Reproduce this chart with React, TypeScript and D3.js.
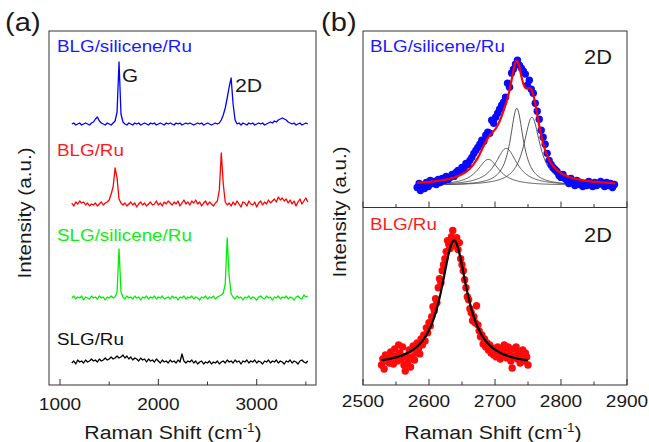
import React from "react";
import * as d3 from "d3";

// (a) Raman spectra, one sample every 20 cm-1 from 1120 to 3520 (heights above each trace's own baseline)
const specStart = 1120;
const specStep = 20;
const blgSiliceneRu = [
  0, 1, -1, 0, 1, -1, 0, 1, 0, -1,
  1, 2, 5, 7, 3, 1, 0, -1, 1, 0,
  -1, 1, 3, 12, 62, 10, 2, 0, -1, 1,
  0, -1, 1, 0, 1, -1, 0, 1, 0, -1,
  1, 0, 1, -1, 0, 1, 0, -1, 1, 0,
  1, 0, -1, 1, 0, 1, -1, 0, 1, 0,
  1, 0, -1, 0, 1, 0, 1, -1, 0, 1,
  0, -1, 0, 1, 0, 1, 4, 9, 16, 26,
  37, 46, 20, 4, 0, 1, -1, 1, 0, -1,
  1, 0, 1, -1, 0, 1, 0, 1, -1, 0,
  1, 2, 1, 3, 2, 4, 5, 6, 5, 4,
  2, 1, 0, 1, -1, 0, 1, -1, 0, 1,
  0,
];
const blgRu = [
  1, -2, 2, 0, 3, 1, 2, -1, 1, -2,
  0, -1, 1, -2, 0, 2, -1, 1, 2, 4,
  10, 17, 36, 26, 5, 1, -1, 1, -2, 0,
  2, -1, 1, -3, 0, 2, -1, 1, -2, 0,
  2, -1, 0, 3, -1, 1, -2, 2, 0, 3,
  1, -1, 2, 0, 3, -2, 1, 4, 0, 2,
  -1, 3, 1, 4, 0, 2, -2, 1, 3, -1,
  2, 0, -2, 1, 3, 14, 51, 20, 2, -1,
  1, -2, 2, -1, 3, 0, -3, 2, 1, -2,
  3, 0, -1, 2, -3, 1, 3, -1, 2, 0,
  4, 1, 3, 5, 2, 7, 4, 6, 3, 5,
  1, 4, 0, 3, -2, 2, 5, 0, 3, 6,
  2,
];
const slgSiliceneRu = [
  0, 2, -1, 1, 0, 2, -2, 1, 0, -1,
  2, 0, 1, -1, 2, 0, 1, -2, 1, 0,
  2, 0, 1, 6, 49, 6, 1, -1, 2, 0,
  1, -1, 2, 0, 1, -2, 1, 0, 2, -1,
  1, 0, 2, -1, 1, 0, 2, -1, 0, 1,
  -1, 2, 0, 1, -2, 1, 0, 2, -1, 1,
  0, 2, -1, 1, 0, -2, 1, 0, 2, -1,
  1, 0, 2, -1, 1, 2, 3, 5, 14, 60,
  22, 4, 1, -1, 2, 0, 1, -2, 1, 0,
  2, -1, 1, 0, -2, 1, 2, 0, -1, 2,
  0, 1, -2, 1, 0, 2, -1, 1, 0, 2,
  -1, 1, 0, -2, 1, 2, 0, -1, 3, 1,
  2,
];
const slgRu = [
  -1, 1, -2, 2, 0, 1, -1, 2, 0, 1,
  3, 1, 2, 0, 3, 1, 2, 4, 2, 3,
  5, 3, 4, 6, 4, 5, 7, 4, 6, 3,
  5, 2, 4, 3, 1, 4, 2, 3, 0, 3,
  1, 2, 0, 3, 1, -1, 2, 0, 1, -1,
  2, 0, 1, -1, 2, 0, 8, 1, -1, 1,
  0, 2, -1, 1, -2, 0, 1, -2, 0, -1,
  1, -2, 0, -1, 1, -2, 0, 1, -1, 2,
  0, 1, -1, 2, 0, 1, -2, 1, 0, 2,
  -1, 1, 0, 2, -1, 1, 0, -2, 1, 0,
  2, -1, 1, 0, 2, -1, 1, 0, -2, 1,
  0, 2, -1, 1, 0, -2, 1, 2, 0, -1,
  1,
];
const spectra = [blgSiliceneRu, blgRu, slgSiliceneRu, slgRu];
const spectraNames = ["BLG/silicene/Ru", "BLG/Ru", "SLG/silicene/Ru", "SLG/Ru"];
const spectraOffsets = [261, 181, 87, 23];
const spectraColors = ["#0000ff", "#ff0000", "#00ee00", "#000000"];
const labelColors = ["#1a1aff", "#ff1a1a", "#11ee11", "#111111"];

const ticksA = [1000, 2000, 3000];
const minorTicksA = [1500, 2500, 3500];
const ticksB = [2500, 2600, 2700, 2800, 2900];
const minorTicksB = [2550, 2650, 2750, 2850];

// (b) top: BLG/silicene/Ru 2D band, measured points and four Lorentzian components
const blgSilPoints = [
  [2582, 20], [2585, 24], [2587, 17], [2590, 22], [2593, 19], [2596, 25], [2599, 21], [2602, 27],
  [2605, 24], [2608, 26], [2611, 23], [2614, 28], [2617, 25], [2620, 29], [2623, 27], [2626, 31],
  [2629, 28], [2632, 30], [2635, 33], [2638, 31], [2641, 35], [2644, 37], [2647, 36], [2650, 40],
  [2653, 39], [2656, 44], [2659, 43], [2662, 47], [2665, 50], [2668, 54], [2671, 57], [2674, 60],
  [2677, 63], [2680, 67], [2683, 66], [2686, 72], [2689, 75], [2692, 74], [2695, 87], [2698, 84],
  [2701, 90], [2704, 94], [2707, 98], [2710, 102], [2713, 105], [2716, 110], [2719, 124], [2722, 120],
  [2725, 134], [2728, 138], [2731, 143], [2734, 147], [2737, 142], [2740, 139], [2743, 136], [2746, 133],
  [2749, 122], [2752, 127], [2755, 118], [2758, 114], [2761, 104], [2764, 96], [2767, 88], [2770, 77],
  [2773, 70], [2776, 63], [2779, 54], [2782, 47], [2785, 43], [2788, 40], [2791, 38], [2794, 36],
  [2797, 32], [2800, 30], [2803, 33], [2806, 29], [2809, 27], [2812, 24], [2815, 29], [2818, 26],
  [2821, 22], [2824, 27], [2827, 23], [2830, 25], [2833, 21], [2836, 24], [2839, 22], [2842, 26],
  [2845, 23], [2848, 21], [2851, 25], [2854, 22], [2857, 24], [2860, 26], [2863, 23], [2866, 21],
  [2869, 25], [2872, 22], [2875, 24], [2878, 20], [2881, 23],
];
const peakCenters = [2690, 2717, 2733, 2756];
const peakAmps = [26, 37, 77, 68];
const peakHalfWidths = [20, 20, 12, 15];
const peakBase = 22;
const topFitRange = [2582, 2882];

// (b) bottom: BLG/Ru 2D band, single Lorentzian
const blgRuPoints = [
  [2528, 18], [2530, 24], [2532, 14], [2534, 28], [2536, 22], [2538, 26], [2540, 20], [2542, 31],
  [2544, 25], [2546, 19], [2548, 34], [2550, 27], [2552, 22], [2554, 38], [2556, 30], [2558, 24],
  [2560, 36], [2562, 18], [2564, 12], [2566, 27], [2568, 21], [2570, 33], [2572, 16], [2574, 26],
  [2576, 37], [2578, 23], [2580, 30], [2582, 40], [2584, 34], [2586, 29], [2588, 44], [2590, 38],
  [2592, 48], [2594, 42], [2596, 55], [2598, 50], [2600, 60], [2602, 57], [2604, 66], [2606, 76],
  [2608, 72], [2610, 84], [2612, 80], [2614, 95], [2616, 104], [2618, 100], [2620, 112], [2622, 118],
  [2624, 124], [2626, 131], [2628, 142], [2630, 138], [2632, 134], [2634, 146], [2636, 152], [2638, 140],
  [2640, 137], [2642, 145], [2644, 133], [2646, 140], [2648, 124], [2650, 118], [2652, 112], [2654, 103],
  [2656, 95], [2658, 86], [2660, 83], [2662, 74], [2664, 70], [2666, 62], [2668, 66], [2670, 60],
  [2672, 77], [2674, 58], [2676, 52], [2678, 46], [2680, 48], [2682, 39], [2684, 44], [2686, 36],
  [2688, 40], [2690, 33], [2692, 38], [2694, 30], [2696, 35], [2698, 28], [2700, 32], [2702, 26],
  [2704, 36], [2706, 30], [2708, 24], [2710, 34], [2712, 28], [2714, 38], [2716, 32], [2718, 25],
  [2720, 36], [2722, 30], [2724, 22], [2726, 15], [2728, 34], [2730, 27], [2732, 36], [2734, 24],
  [2736, 31], [2738, 20], [2740, 28], [2742, 33], [2744, 22], [2746, 30], [2748, 26], [2750, 18],
];
const blgRuFitCenter = 2638;
const blgRuFitAmp = 125;
const blgRuFitHalfWidth = 24;
const blgRuFitBase = 17;
const bottomFitRange = [2528, 2750];

const lorentz = (x: number, c: number, a: number, w: number) => a / (1 + ((x - c) / w) ** 2);

const FONT = "'Liberation Sans', Arial, Helvetica, sans-serif";
const FRAME = "#333";
const TEXT = "#1a1a1a";

function T({ x, y, size, fill = TEXT, anchor = "start", rotate = 0, children }: any) {
  return (
    <text
      transform={`translate(${x},${y}) rotate(${rotate}) scale(1.12,1)`}
      fontSize={size}
      fill={fill}
      textAnchor={anchor}
      fontFamily={FONT}
    >
      {children}
    </text>
  );
}

function XTitle({ x }: { x: number }) {
  return (
    <T x={x} y={439} size={19} anchor="middle">
      Raman Shift (cm<tspan dy={-7} fontSize={12}>-1</tspan>
      <tspan dy={7}>)</tspan>
    </T>
  );
}

function Ticks({ scale, major, minor, y }: any) {
  return (
    <g stroke={FRAME} strokeWidth={1}>
      {major.map((t: number) => (
        <line key={"M" + t} x1={scale(t)} x2={scale(t)} y1={y} y2={y - 6} />
      ))}
      {minor.map((t: number) => (
        <line key={"m" + t} x1={scale(t)} x2={scale(t)} y1={y} y2={y - 3.5} />
      ))}
    </g>
  );
}

export default function App() {
  // panel (a)
  const aL = 49, aR = 316, top = 31, bottom = 385;
  const xA = d3.scaleLinear().domain([888, 3603]).range([aL, aR]);
  const yA = d3.scaleLinear().domain([0, 354]).range([bottom, top]);

  // panel (b)
  const bL = 363, bR = 627, mid = 207.5;
  const xB = d3.scaleLinear().domain([2500, 2900]).range([bL, bR]);
  const yBt = d3.scaleLinear().domain([0, 176]).range([mid, top]);
  const yBb = d3.scaleLinear().domain([-2, 175]).range([bottom, mid]);

  const fitX = d3.range(topFitRange[0], topFitRange[1] + 0.5, 1);
  const compLine = d3.line<number>().x((x) => xB(x));
  const components = peakCenters.map((c, i) =>
    compLine.y((x) => yBt(peakBase + lorentz(x, c, peakAmps[i], peakHalfWidths[i])))(fitX)
  );
  const sumLine = d3
    .line<number>()
    .x((x) => xB(x))
    .y((x) => yBt(peakBase + d3.sum(peakCenters, (c, i) => lorentz(x, c, peakAmps[i], peakHalfWidths[i]))))(fitX);

  const botX = d3.range(bottomFitRange[0], bottomFitRange[1] + 0.5, 1);
  const botLine = d3
    .line<number>()
    .x((x) => xB(x))
    .y((x) => yBb(blgRuFitBase + lorentz(x, blgRuFitCenter, blgRuFitAmp, blgRuFitHalfWidth)))(botX);

  const labelY = [52, 156, 241, 345];

  return (
    <svg
      width={649}
      height={442}
      style={{ position: "absolute", left: 0, top: 0, background: "#fff" }}
    >
      <rect width={649} height={442} fill="#fff" />

      {/* ---- (a) ---- */}
      <T x={5} y={31} size={26}>(a)</T>
      {spectra.map((s, k) => {
        const line = d3
          .line<number>()
          .x((_, i) => xA(specStart + i * specStep))
          .y((v) => yA(v + spectraOffsets[k]));
        return (
          <path key={k} d={line(s) || ""} fill="none" stroke={spectraColors[k]} strokeWidth={1.3} strokeLinejoin="round" />
        );
      })}
      {spectraNames.map((n, k) => (
        <T key={n} x={57} y={labelY[k]} size={16.8} fill={labelColors[k]}>{n}</T>
      ))}
      <T x={122} y={82} size={18.5}>G</T>
      <T x={235} y={92} size={19}>2D</T>
      <rect x={aL} y={top} width={aR - aL} height={bottom - top} fill="none" stroke={FRAME} strokeWidth={1} />
      <Ticks scale={xA} major={ticksA} minor={minorTicksA} y={bottom} />
      {ticksA.map((t) => (
        <T key={t} x={xA(t)} y={410} size={17} anchor="middle">{t}</T>
      ))}
      <XTitle x={173} />
      <T x={31} y={213} size={18.5} anchor="middle" rotate={-90}>Intensity (a.u.)</T>

      {/* ---- (b) ---- */}
      <T x={321} y={31} size={26}>(b)</T>
      {components.map((d, i) => (
        <path key={i} d={d || ""} fill="none" stroke="#444" strokeWidth={0.9} />
      ))}
      {blgSilPoints.map(([x, v], i) => (
        <circle key={i} cx={xB(x)} cy={yBt(v)} r={3.7} fill="#0a0aff" />
      ))}
      <path d={sumLine || ""} fill="none" stroke="#ff0000" strokeWidth={2.2} />
      <T x={370} y={52} size={16.8} fill="#1a1aff">BLG/silicene/Ru</T>
      <T x={584} y={64} size={19.5}>2D</T>

      {blgRuPoints.map(([x, v], i) => (
        <circle key={i} cx={xB(x)} cy={yBb(v)} r={3.7} fill="#ff0a0a" />
      ))}
      <path d={botLine || ""} fill="none" stroke="#000" strokeWidth={2.2} />
      <T x={370} y={230} size={16.8} fill="#ff1a1a">BLG/Ru</T>
      <T x={584} y={242} size={19.5}>2D</T>

      <rect x={bL} y={top} width={bR - bL} height={bottom - top} fill="none" stroke={FRAME} strokeWidth={1} />
      <line x1={bL} x2={bR} y1={mid} y2={mid} stroke={FRAME} strokeWidth={1} />
      <Ticks scale={xB} major={ticksB} minor={minorTicksB} y={mid} />
      <Ticks scale={xB} major={ticksB} minor={minorTicksB} y={bottom} />
      {ticksB.map((t) => (
        <T key={t} x={xB(t)} y={407} size={17} anchor="middle">{t}</T>
      ))}
      <XTitle x={493} />
      <T x={346} y={212} size={18.5} anchor="middle" rotate={-90}>Intensity (a.u.)</T>
    </svg>
  );
}
